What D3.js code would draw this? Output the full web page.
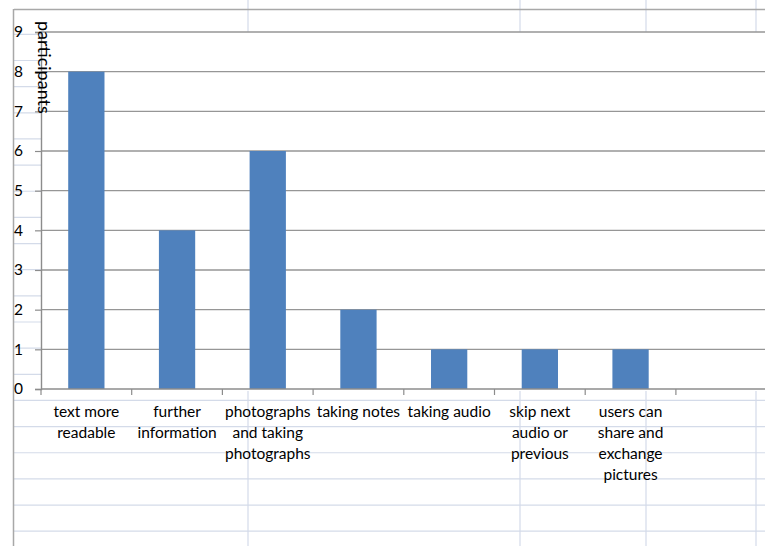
<!DOCTYPE html>
<html>
<head>
<meta charset="utf-8">
<script src="https://cdn.jsdelivr.net/npm/d3@7"></script>
<style>
  html, body { margin: 0; padding: 0; background: #fff; }
  svg { display: block; }
  text { font-family: Lato, "Open Sans", sans-serif; fill: #000; }
</style>
</head>
<body>
<svg id="chart" width="765" height="546"></svg>
<script>
// ---- data ----
const categories = [
  "text more\nreadable",
  "further\ninformation",
  "photographs\nand taking\nphotographs",
  "taking notes",
  "taking audio",
  "skip next\naudio or\nprevious",
  "users can\nshare and\nexchange\npictures",
  ""
];
const values = [8, 4, 6, 2, 1, 1, 1, null];
const yTicks = [0, 1, 2, 3, 4, 5, 6, 7, 8, 9];
const yTitle = "participants";

// ---- layout ----
const W = 765, H = 546;
const plot = { left: 41, top: 32, bottom: 389 };
const bandW = 90.7;

const svg = d3.select("#chart");

// spreadsheet background
svg.append("rect").attr("width", W).attr("height", H).attr("fill", "#fff");
const sheet = svg.append("g");
const rowYs = d3.range(8.2 + 26.15, H, 26.15);
sheet.selectAll("line.row").data(rowYs).join("line")
  .attr("x1", 14).attr("x2", W).attr("y1", d => d).attr("y2", d => d)
  .attr("stroke", "#d4dbe9").attr("stroke-width", 1.2);
const colXs = [248, 520, 646, 756];
sheet.selectAll("line.col").data(colXs).join("line")
  .attr("x1", d => d).attr("x2", d => d).attr("y1", 0).attr("y2", H)
  .attr("stroke", "#d4dbe9").attr("stroke-width", 1.2);
// sheet borders
sheet.append("line").attr("x1", 14).attr("x2", W).attr("y1", 9.5).attr("y2", 9.5)
  .attr("stroke", "#a8a8a8").attr("stroke-width", 1.5);
sheet.append("line").attr("x1", 13.5).attr("x2", 13.5).attr("y1", 9).attr("y2", H)
  .attr("stroke", "#a8a8a8").attr("stroke-width", 1.5);

// scales
const x = d3.scaleBand().domain(d3.range(categories.length))
  .range([plot.left, plot.left + bandW * categories.length]).padding(0);
const y = d3.scaleLinear().domain([0, 9]).range([plot.bottom, plot.top]);

// plot area
svg.append("rect")
  .attr("x", plot.left).attr("y", plot.top)
  .attr("width", W - plot.left).attr("height", plot.bottom - plot.top + 2)
  .attr("fill", "#fff");

// gridlines
svg.append("g").selectAll("line").data(yTicks.filter(d => d > 0)).join("line")
  .attr("x1", plot.left).attr("x2", W)
  .attr("y1", d => y(d)).attr("y2", d => y(d))
  .attr("stroke", "#969696").attr("stroke-width", 1.4);

// bars
svg.append("g").selectAll("rect")
  .data(values.map((v, i) => ({ v, i })).filter(d => d.v != null))
  .join("rect")
  .attr("x", d => x(d.i) + x.bandwidth() * 0.3)
  .attr("width", x.bandwidth() * 0.4)
  .attr("y", d => y(d.v))
  .attr("height", d => y(0) - y(d.v))
  .attr("fill", "#4f81bd");

// y axis
const yAxis = svg.append("g").attr("transform", `translate(${plot.left},0)`)
  .call(d3.axisLeft(y).tickValues(yTicks).tickSize(6).tickPadding(12).tickFormat(d3.format("d")));
yAxis.select(".domain").attr("stroke", "#8c8c8c").attr("stroke-width", 1.4);
yAxis.selectAll(".tick line").attr("stroke", "#8c8c8c").attr("stroke-width", 1.2);
yAxis.selectAll(".tick text").attr("font-size", 15.5).attr("fill", "#000")
  .style("font-family", "Lato, sans-serif");

// x axis (ticks at band boundaries)
const xAxisG = svg.append("g");
xAxisG.append("line").attr("x1", plot.left).attr("x2", W)
  .attr("y1", y(0)).attr("y2", y(0)).attr("stroke", "#8c8c8c").attr("stroke-width", 1.4);
xAxisG.selectAll("line.t").data(d3.range(categories.length + 1)).join("line")
  .attr("class", "t")
  .attr("x1", i => plot.left + i * x.step()).attr("x2", i => plot.left + i * x.step())
  .attr("y1", y(0)).attr("y2", y(0) + 6)
  .attr("stroke", "#8c8c8c").attr("stroke-width", 1.2);

// category labels
const lbl = svg.append("g").selectAll("text").data(categories).join("text")
  .attr("text-anchor", "middle")
  .attr("font-size", 15.5)
  .attr("transform", (d, i) => `translate(${x(i) + x.bandwidth() / 2},417)`);
lbl.each(function (d) {
  const t = d3.select(this);
  d.split("\n").forEach((line, k) => {
    t.append("tspan").attr("x", 0).attr("y", k * 21).text(line);
  });
});

// y title
svg.append("text")
  .attr("transform", "translate(38,21) rotate(90)")
  .attr("font-size", 18)
  .text(yTitle);
</script>
</body>
</html>
